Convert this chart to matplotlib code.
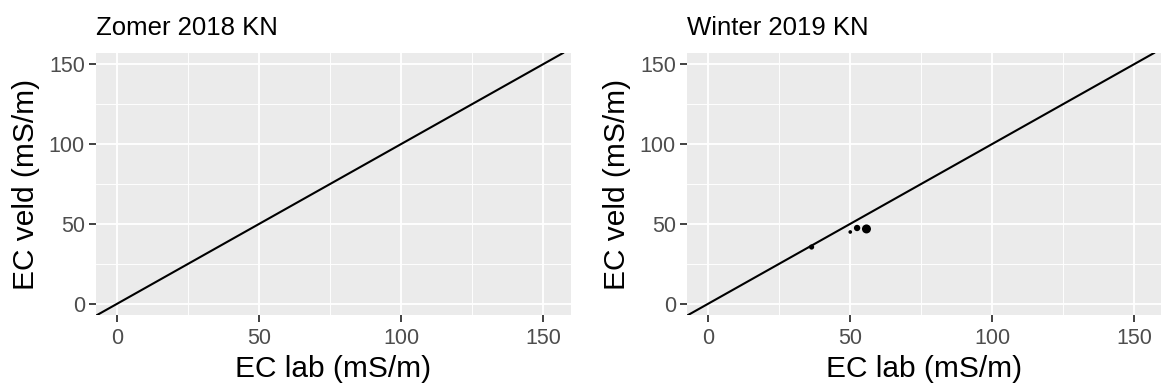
import numpy as np
import matplotlib.pyplot as plt

plt.rcParams['font.family'] = ['Liberation Sans', 'DejaVu Sans']

# EC field vs lab measurements per campaign
titles = ["Zomer 2018 KN", "Winter 2019 KN"]
lab_zomer = []
veld_zomer = []
n_zomer = []
lab_winter = [36.5, 50.1, 52.5, 55.8]
veld_winter = [35.6, 45.0, 47.5, 46.9]
n_winter = [2, 1, 3, 6]

major_ticks = [0, 50, 100, 150]
minor_ticks = [25, 75, 125]

fig = plt.figure(figsize=(11.61, 3.89), dpi=100)
W, H = 1161, 389
panels = [
    fig.add_axes([96 / W, 1 - 315 / H, 475 / W, 262 / H]),
    fig.add_axes([687 / W, 1 - 315 / H, 475 / W, 262 / H]),
]
data = [(lab_zomer, veld_zomer, n_zomer), (lab_winter, veld_winter, n_winter)]

for ax, title, (x, y, n) in zip(panels, titles, data):
    ax.set_facecolor('#EBEBEB')
    ax.set_xlim(-7.3, 159.7)
    ax.set_ylim(-6.9, 156.9)
    ax.set_xticks(major_ticks)
    ax.set_yticks(major_ticks)
    ax.set_xticks(minor_ticks, minor=True)
    ax.set_yticks(minor_ticks, minor=True)
    ax.grid(which='major', color='white', lw=1.3)
    ax.grid(which='minor', color='white', lw=0.65)
    ax.set_axisbelow(True)
    for s in ax.spines.values():
        s.set_visible(False)
    ax.tick_params(which='major', length=5, width=1.3, color='#333333',
                   labelsize=15.5, labelcolor='#4D4D4D', pad=3)
    ax.tick_params(axis='x', which='major', pad=4.5)
    ax.tick_params(which='minor', length=0)

    # 1:1 reference line
    ax.axline((0, 0), slope=1, color='black', lw=1.5, zorder=2)
    if len(x):
        ax.scatter(x, y, s=np.array(n) * 7, color='black', zorder=3, linewidths=0)

    ax.set_xlabel("EC lab (mS/m)", fontsize=21.5, labelpad=4)
    ax.set_ylabel("EC veld (mS/m)", fontsize=21.5, labelpad=6)
    ax.set_title(title, fontsize=18.5, loc='left', pad=13)

fig.savefig("out.png", dpi=100)
